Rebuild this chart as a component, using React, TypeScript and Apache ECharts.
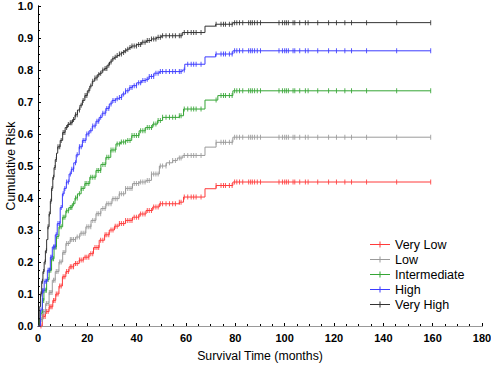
import React, { useEffect, useRef } from "react";
import * as echarts from "echarts";

const seriesNames = ["Very Low", "Low", "Intermediate", "High", "Very High"];
const seriesColors = ["#ff3b3b", "#9a9a9a", "#35a535", "#3c3cff", "#333333"];

const veryLow: number[][] = [
  [0, 0], [1.75, 0.03], [3, 0.045], [4.5, 0.06], [6, 0.08], [7.2, 0.1], [8.5, 0.125], [9.9, 0.154],
  [11.3, 0.17], [12.6, 0.185], [14.5, 0.195], [16.7, 0.206], [18.5, 0.215], [20.7, 0.226], [22.5, 0.245],
  [24.8, 0.268], [27, 0.285], [28.9, 0.3], [31, 0.312], [32.9, 0.32], [35.5, 0.33], [38.3, 0.34],
  [41, 0.35], [43.8, 0.361], [46.5, 0.372], [49.2, 0.382], [57.3, 0.387], [59, 0.403], [67.7, 0.429],
  [72.2, 0.439], [79, 0.45],
];
const low: number[][] = [
  [0, 0], [1.1, 0.02], [2, 0.045], [3.1, 0.07], [4.5, 0.105], [5.8, 0.143], [7, 0.17], [8.5, 0.2],
  [10, 0.23], [11.3, 0.258], [13, 0.27], [15.3, 0.278], [17, 0.29], [19.4, 0.31], [21.5, 0.33],
  [23.5, 0.351], [25.5, 0.367], [27.5, 0.382], [30, 0.398], [32.9, 0.413], [35.5, 0.43], [38.3, 0.445],
  [41, 0.45], [43.8, 0.455], [46, 0.475], [49.2, 0.5], [52, 0.51], [54.6, 0.517], [56.5, 0.525],
  [58.7, 0.533], [67.7, 0.559], [72.2, 0.574], [79, 0.59],
];
const intermediate: number[][] = [
  [0, 0], [0.5, 0.02], [1.1, 0.04], [1.8, 0.08], [2.4, 0.112], [3.5, 0.145], [4.5, 0.174], [5.5, 0.21],
  [6.5, 0.247], [7.5, 0.28], [8.5, 0.31], [10, 0.34], [11.3, 0.36], [12.5, 0.37], [13.9, 0.382],
  [15, 0.4], [16, 0.413], [17.5, 0.43], [19, 0.445], [21, 0.465], [23.5, 0.486], [25.5, 0.505],
  [27.5, 0.527], [29.5, 0.55], [31.6, 0.569], [33.5, 0.575], [35.6, 0.58], [38, 0.595], [41, 0.61],
  [43.5, 0.62], [46.5, 0.631], [48.5, 0.642], [50.5, 0.652], [57.3, 0.657], [59, 0.678], [67.7, 0.706],
  [72.9, 0.72], [79, 0.735],
];
const high: number[][] = [
  [0, 0], [1, 0.05], [1.75, 0.11], [2.5, 0.14], [3.8, 0.174], [5, 0.215], [5.8, 0.247], [7, 0.285],
  [7.8, 0.32], [9, 0.37], [9.9, 0.413], [10.6, 0.43], [11.5, 0.45], [12.6, 0.475], [13.5, 0.49],
  [14.5, 0.51], [15.5, 0.535], [16.7, 0.56], [18, 0.58], [19.5, 0.6], [20.7, 0.61], [22, 0.625],
  [23.5, 0.64], [24.8, 0.652], [26, 0.665], [27.5, 0.68], [28.9, 0.694], [30, 0.705], [31.5, 0.71],
  [32.9, 0.714], [34, 0.725], [35.5, 0.735], [37, 0.745], [38.3, 0.751], [40, 0.76], [42, 0.767],
  [43.8, 0.771], [45, 0.78], [47, 0.79], [49.2, 0.795], [58.5, 0.8], [59.5, 0.818], [67.7, 0.841],
  [72, 0.85], [79, 0.86],
];
const veryHigh: number[][] = [
  [0, 0], [0.5, 0.06], [1, 0.1], [1.5, 0.14], [2, 0.17], [2.5, 0.2], [3, 0.235], [3.5, 0.27],
  [4, 0.31], [4.5, 0.35], [5, 0.39], [5.5, 0.43], [6, 0.465], [6.5, 0.495], [7, 0.52], [7.5, 0.54],
  [8, 0.56], [9, 0.58], [10, 0.605], [11, 0.62], [12, 0.63], [13, 0.635], [14, 0.645], [15, 0.66],
  [16, 0.675], [17, 0.69], [18, 0.705], [19, 0.72], [20, 0.735], [21, 0.75], [22, 0.765], [23, 0.775],
  [24, 0.785], [25, 0.79], [26, 0.8], [27, 0.805], [28, 0.815], [29, 0.825], [30, 0.835], [31, 0.84],
  [32, 0.845], [33, 0.85], [34, 0.855], [35, 0.86], [36, 0.865], [37, 0.87], [38, 0.875], [40, 0.88],
  [42, 0.887], [44, 0.892], [46, 0.897], [48, 0.902], [50, 0.907], [58.5, 0.917], [67.7, 0.937],
  [72, 0.943], [79, 0.948],
];

const censorTimes = [
  1.2, 1.8, 2.3, 2.9, 3.4, 4.1, 4.6, 5.2, 5.7, 6.3, 6.9, 7.4, 8.1, 8.8, 9.4, 10.2, 10.9, 11.6, 12.3,
  13.1, 13.7, 14.4, 15.2, 15.9, 16.8, 17.5, 18.3, 19.1, 19.8, 20.6, 21.4, 22.2, 23.1, 23.9, 24.6,
  25.4, 26.3, 27.2, 27.9, 28.7, 29.6, 30.4, 31.3, 32.1, 33.0, 33.8, 34.7, 35.5, 36.4, 37.3, 38.1,
  39.0, 39.9, 40.8, 41.6, 42.5, 43.4, 44.3, 45.1, 46.0, 46.9, 47.8, 48.7, 49.6, 50.5, 51.9, 53.3,
  54.6, 55.7, 57.3, 58.0, 59.3, 60.7, 62.1, 63.1, 64.1, 66.1, 72.2, 74.2, 75.2, 76.0, 77.6, 78.7,
  79.7, 80.6, 81.7, 83.0, 85.4, 86.2, 86.9, 87.8, 88.9, 90.2, 97.7, 99.1, 100.0, 100.7, 101.5, 103.4,
  104.1, 106.1, 108.4, 109.5, 113.4, 117.8, 121.0, 124.4, 127.1, 133.2, 145.4, 159.2,
];

const xTicks = { min: 0, max: 180, interval: 20 };
const yTicks = { min: 0, max: 1, interval: 0.1 };

const allData = [veryLow, low, intermediate, high, veryHigh];

function stepAt(data: number[][], t: number): number {
  let v = 0;
  for (const p of data) {
    if (p[0] <= t) v = p[1];
    else break;
  }
  return v;
}

const FONT = "Arial, 'Liberation Sans', sans-serif";

export default function App() {
  const ref = useRef<HTMLDivElement>(null);
  useEffect(() => {
    if (!ref.current) return;
    const chart = echarts.init(ref.current, null, { renderer: "svg" });
    const endT = censorTimes[censorTimes.length - 1];
    const series: any[] = [];
    allData.forEach((d, i) => {
      const full = d.concat([[endT, d[d.length - 1][1]]]);
      series.push({
        name: seriesNames[i],
        type: "line",
        step: "end",
        data: full,
        showSymbol: false,
        symbol: "none",
        lineStyle: { color: seriesColors[i], width: 1 },
        itemStyle: { color: seriesColors[i] },
        z: 2 + i,
      });
      series.push({
        name: seriesNames[i],
        type: "scatter",
        data: censorTimes.map((t) => [t, stepAt(d, t)]),
        symbol: "rect",
        symbolSize: [1, 5],
        itemStyle: { color: seriesColors[i], opacity: 0.85 },
        z: 2 + i,
      });
    });
    const axisLabelStyle = {
      color: "#000",
      fontFamily: FONT,
      fontWeight: "bold" as const,
      fontSize: 11,
    };
    chart.setOption({
      animation: false,
      grid: { left: 38, right: 9, top: 6, bottom: 39, containLabel: false, outerBoundsMode: "none" },
      legend: {
        data: seriesNames.map((n) => ({ name: n })),
        orient: "vertical",
        left: 370,
        top: 237,
        itemWidth: 20,
        itemHeight: 8,
        itemGap: 0,
        icon: "path://M0,3.5H20V4.5H0Z M9.5,1H10.5V7H9.5Z",
        textStyle: {
          color: "#000",
          fontFamily: FONT,
          fontSize: 12.5,
          lineHeight: 15,
          padding: [0, 0, 0, 0],
        },
        padding: 0,
      },
      xAxis: [
        {
          type: "value",
          min: xTicks.min,
          max: xTicks.max,
          interval: xTicks.interval,
          name: "Survival Time (months)",
          nameLocation: "middle",
          nameGap: 24,
          nameTextStyle: { color: "#000", fontFamily: FONT, fontSize: 12.3 },
          axisLine: { lineStyle: { color: "#000", width: 1 } },
          axisTick: { inside: true, length: 3, lineStyle: { color: "#000" } },
          minorTick: { show: true, splitNumber: 4, length: 2, lineStyle: { color: "#000" } },
          splitLine: { show: false },
          axisLabel: { ...axisLabelStyle, margin: 6 },
        },
        {
          type: "value",
          position: "top",
          min: xTicks.min,
          max: xTicks.max,
          axisLine: { show: true, lineStyle: { color: "#999", width: 1 } },
          axisTick: { show: false },
          axisLabel: { show: false },
          splitLine: { show: false },
        },
      ],
      yAxis: [
        {
          type: "value",
          min: yTicks.min,
          max: yTicks.max,
          interval: yTicks.interval,
          name: "Cumulative Risk",
          nameLocation: "middle",
          nameGap: 21,
          nameMoveOverlap: false,
          nameTextStyle: { color: "#000", fontFamily: FONT, fontSize: 12.3 },
          axisLine: { show: true, lineStyle: { color: "#000", width: 1 } },
          axisTick: { show: true, inside: true, length: 3, lineStyle: { color: "#000" } },
          minorTick: { show: true, splitNumber: 4, length: 2, lineStyle: { color: "#000" } },
          splitLine: { show: false },
          axisLabel: { ...axisLabelStyle, margin: 5, formatter: (v: number) => v.toFixed(1) },
        },
        {
          type: "value",
          position: "right",
          min: yTicks.min,
          max: yTicks.max,
          axisLine: { show: true, lineStyle: { color: "#000", width: 1 } },
          axisTick: { show: false },
          axisLabel: { show: false },
          splitLine: { show: false },
        },
      ],
      series,
    });
    return () => chart.dispose();
  }, []);
  return (
    <div
      ref={ref}
      style={{ position: "absolute", left: 0, top: 0, width: 491, height: 365, background: "#fff" }}
    />
  );
}
